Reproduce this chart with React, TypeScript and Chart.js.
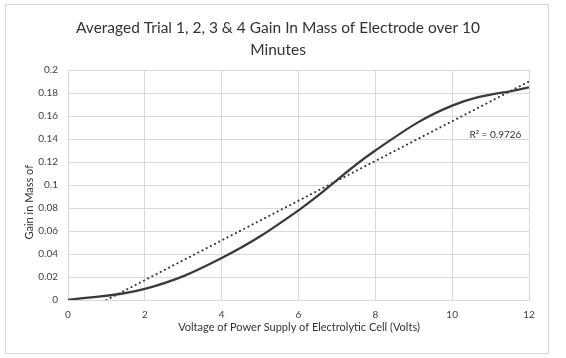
import React, { useEffect, useRef } from 'react';
import { Chart, registerables } from 'chart.js';

Chart.register(...registerables);

const voltages = [0, 2, 4, 6, 8, 10, 12];
const massGain = [0, 0.0096, 0.0365, 0.078, 0.13, 0.169, 0.185];
const trendVoltages = [1.0, 12];
const trendGain = [0, 0.19];
const xTickValues = [0, 2, 4, 6, 8, 10, 12];
const yTickValues = [0, 0.02, 0.04, 0.06, 0.08, 0.1, 0.12, 0.14, 0.16, 0.18, 0.2];
const titleLines = ['Averaged Trial 1, 2, 3 & 4 Gain In Mass of Electrode over 10', 'Minutes'];
const xTitle = 'Voltage of Power Supply of Electrolytic Cell (Volts)';
const yTitle = 'Gain in Mass of';
const r2Label = 'R² = 0.9726';
const r2Anchor = { x: 10.45, y: 0.144 };

const FONT = 'Lato, "Open Sans", sans-serif';

const decorPlugin = {
  id: 'decor',
  beforeDraw(chart: any) {
    const { ctx, width, height } = chart;
    ctx.save();
    ctx.fillStyle = '#ffffff';
    ctx.fillRect(0, 0, width, height);
    ctx.strokeStyle = '#d9d9d9';
    ctx.lineWidth = 1;
    ctx.strokeRect(5.5, 4.5, 543, 349);
    ctx.restore();
  },
  afterDraw(chart: any) {
    const { ctx, chartArea, scales } = chart;
    ctx.save();
    ctx.fillStyle = '#333333';
    ctx.textAlign = 'center';
    ctx.textBaseline = 'middle';
    ctx.font = `15.5px ${FONT}`;
    const cx = 278;
    ctx.fillText(titleLines[0], cx, 28);
    ctx.fillText(titleLines[1], cx, 50);
    ctx.font = `11px ${FONT}`;
    ctx.fillText(xTitle, 299, 327);
    ctx.save();
    ctx.translate(29, chartArea.top + (chartArea.bottom - chartArea.top) * 0.575);
    ctx.rotate(-Math.PI / 2);
    ctx.fillText(yTitle, 0, 0);
    ctx.restore();
    ctx.font = `10px ${FONT}`;
    ctx.textAlign = 'left';
    ctx.fillText(r2Label, scales.x.getPixelForValue(r2Anchor.x), scales.y.getPixelForValue(r2Anchor.y));
    ctx.restore();
  },
};

export default function App() {
  const ref = useRef<HTMLCanvasElement>(null);
  useEffect(() => {
    document.body.style.margin = '0';
    const canvas = ref.current!;
    const chart = new Chart(canvas, {
      type: 'line',
      data: {
        datasets: [
          {
            label: 'Gain in Mass',
            data: voltages.map((v, i) => ({ x: v, y: massGain[i] })),
            borderColor: '#3a3a3a',
            borderWidth: 2.25,
            pointRadius: 0,
            tension: 0.4,
            fill: false,
          },
          {
            label: 'Linear trend',
            data: trendVoltages.map((v, i) => ({ x: v, y: trendGain[i] })),
            borderColor: '#333333',
            borderWidth: 2,
            borderDash: [0.1, 4.6],
            borderCapStyle: 'round',
            pointRadius: 0,
            tension: 0,
            fill: false,
          },
        ],
      },
      options: {
        animation: false,
        responsive: false,
        devicePixelRatio: 1,
        layout: { padding: { left: 0, top: 70, right: 37, bottom: 0 } },
        plugins: {
          legend: { display: false },
          title: { display: false },
          tooltip: { enabled: false },
        },
        scales: {
          x: {
            type: 'linear',
            min: 0,
            max: 12,
            afterFit: (s: any) => { s.height = 58; },
            afterBuildTicks: (s: any) => { s.ticks = xTickValues.map((v) => ({ value: v })); },
            grid: { color: '#d9d9d9', lineWidth: 1, drawTicks: false },
            border: { color: '#d9d9d9' },
            ticks: {
              color: '#404040',
              font: { family: FONT, size: 10 },
              padding: 9,
              maxRotation: 0,
              callback: (v: any) => String(v),
            },
          },
          y: {
            type: 'linear',
            min: 0,
            max: 0.2,
            afterFit: (s: any) => { s.width = 68; },
            afterBuildTicks: (s: any) => { s.ticks = yTickValues.map((v) => ({ value: v })); },
            grid: { color: '#d9d9d9', lineWidth: 1, drawTicks: false },
            border: { color: '#d9d9d9' },
            ticks: {
              color: '#404040',
              font: { family: FONT, size: 10 },
              padding: 10,
              callback: (v: any) => String(+Number(v).toFixed(2)),
            },
          },
        },
      },
      plugins: [decorPlugin],
    } as any);
    return () => chart.destroy();
  }, []);
  return (
    <div style={{ width: 566, height: 358 }}>
      <canvas ref={ref} width={566} height={358} style={{ display: 'block', width: 566, height: 358 }} />
    </div>
  );
}
